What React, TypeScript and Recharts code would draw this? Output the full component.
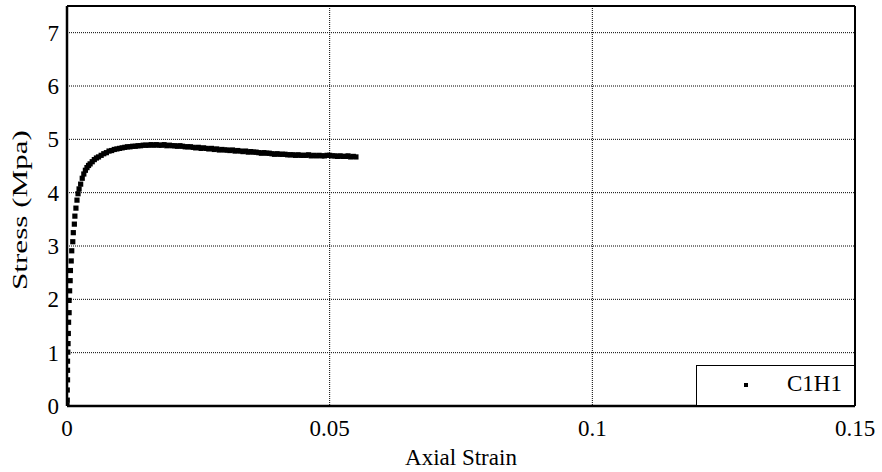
import {
    CartesianGrid,
    Legend,
    ReferenceLine,
    Scatter,
    ScatterChart,
    XAxis,
    YAxis,
} from "recharts";

// initial (sparse) rise of the curve
const riseStrain = [
    0, 0.00005, 0.00005, 0.0001, 0.0001, 0.0001, 0.00015, 0.0002, 0.00025, 0.0003,
    0.0004, 0.0004, 0.0005, 0.0006, 0.00065, 0.0008, 0.0009, 0.0011, 0.0012, 0.0014,
    0.0015, 0.0017, 0.0019, 0.0021,
];
const riseStress = [
    0.02, 0.11, 0.3, 0.49, 0.67, 0.84, 1.01, 1.17, 1.36, 1.57,
    1.75, 1.98, 2.16, 2.35, 2.54, 2.72, 2.91, 3.08, 3.25, 3.41,
    3.56, 3.71, 3.86, 3.98,
];

// dense part: knee, peak and softening branch
const denseStrain = [
    0.0023, 0.0026, 0.0029, 0.0032, 0.0035, 0.0038, 0.0041, 0.0044, 0.0048, 0.0052,
    0.0056, 0.006, 0.0065, 0.007, 0.0075, 0.008, 0.0085, 0.009, 0.0095, 0.01,
    0.0105, 0.011, 0.0115, 0.012, 0.0125, 0.013, 0.0135, 0.014, 0.0145, 0.015,
    0.0155, 0.016, 0.0165, 0.017, 0.0175, 0.018, 0.0185, 0.019, 0.0195, 0.02,
    0.0205, 0.021, 0.0215, 0.022, 0.0225, 0.023, 0.0235, 0.024, 0.0245, 0.025,
    0.0255, 0.026, 0.0265, 0.027, 0.0275, 0.028, 0.0285, 0.029, 0.0295, 0.03,
    0.0305, 0.031, 0.0315, 0.032, 0.0325, 0.033, 0.0335, 0.034, 0.0345, 0.035,
    0.0355, 0.036, 0.0365, 0.037, 0.0375, 0.038, 0.0385, 0.039, 0.0395, 0.04,
    0.0405, 0.041, 0.0415, 0.042, 0.0425, 0.043, 0.0435, 0.044, 0.0445, 0.045,
    0.0455, 0.046, 0.0465, 0.047, 0.0475, 0.048, 0.0485, 0.049, 0.0495, 0.05,
    0.0505, 0.051, 0.0515, 0.052, 0.0525, 0.053, 0.0535, 0.054, 0.0545, 0.055,
];
const denseStress = [
    4.07, 4.16, 4.27, 4.35, 4.42, 4.47, 4.51, 4.54, 4.58, 4.62,
    4.65, 4.67, 4.7, 4.73, 4.75, 4.78, 4.79, 4.81, 4.82, 4.83,
    4.84, 4.85, 4.86, 4.86, 4.87, 4.87, 4.88, 4.88, 4.89, 4.89,
    4.89, 4.9, 4.89, 4.9, 4.89, 4.89, 4.9, 4.88, 4.89, 4.88,
    4.88, 4.87, 4.88, 4.87, 4.86, 4.86, 4.86, 4.85, 4.84, 4.85,
    4.83, 4.84, 4.83, 4.82, 4.83, 4.81, 4.82, 4.8, 4.81, 4.8,
    4.8, 4.79, 4.8, 4.78, 4.79, 4.78, 4.77, 4.78, 4.76, 4.77,
    4.76, 4.76, 4.75, 4.74, 4.75, 4.74, 4.74, 4.73, 4.72, 4.73,
    4.72, 4.72, 4.72, 4.71, 4.71, 4.71, 4.7, 4.71, 4.7, 4.7,
    4.7, 4.71, 4.69, 4.7, 4.69, 4.7, 4.69, 4.69, 4.7, 4.7,
    4.69, 4.69, 4.68, 4.69, 4.68, 4.68, 4.69, 4.67, 4.68, 4.67,
];

const xTicks = [0, 0.05, 0.1, 0.15];
const yTicks = [0, 1, 2, 3, 4, 5, 6, 7];

const FONT = "'Liberation Serif', 'Times New Roman', serif";

const data = [
    ...riseStrain.map((strain, i) => ({ strain, stress: riseStress[i] })),
    ...denseStrain.map((strain, i) => ({ strain, stress: denseStress[i] })),
];

function SquareDot(props: any) {
    const { cx, cy } = props;
    if (cx == null || cy == null) return null;
    return <rect x={cx - 2.6} y={cy - 2.6} width={5.2} height={5.2} fill="#000" />;
}

function XTick(props: any) {
    const { x, y, payload } = props;
    return (
        <text
            x={x}
            y={y + 10}
            dy="0.8em"
            textAnchor="middle"
            fontFamily={FONT}
            fontSize={23}
            fill="#000"
        >
            {String(payload.value)}
        </text>
    );
}

function YTick(props: any) {
    const { x, y, payload } = props;
    return (
        <text
            x={x - 6}
            y={y}
            dy="0.35em"
            textAnchor="end"
            fontFamily={FONT}
            fontSize={23}
            fill="#000"
        >
            {String(payload.value)}
        </text>
    );
}

function LegendBox() {
    return (
        <div
            style={{
                width: 159,
                height: 41,
                boxSizing: "border-box",
                border: "1.5px solid #000",
                background: "#fff",
                position: "relative",
                fontFamily: FONT,
                fontSize: 23,
                color: "#000",
            }}
        >
            <div
                style={{
                    position: "absolute",
                    left: 47,
                    top: 17,
                    width: 4,
                    height: 4,
                    background: "#000",
                }}
            />
            <div style={{ position: "absolute", left: 90, top: 5, lineHeight: "26px" }}>C1H1</div>
        </div>
    );
}

function YLabel() {
    const y = 210;
    const x = 20;
    return (
        <text
            x={x}
            y={y}
            transform={`rotate(-90 ${x} ${y})`}
            textAnchor="middle"
            dominantBaseline="central"
            fontFamily={FONT}
            fontSize={21}
            textLength={160}
            lengthAdjust="spacingAndGlyphs"
            fill="#000"
        >
            Stress (Mpa)
        </text>
    );
}

export default function App() {
    return (
        <div style={{ position: "absolute", left: 0, top: 0, width: 882, height: 472, background: "#fff" }}>
            <ScatterChart
                width={882}
                height={472}
                margin={{ top: 6, right: 27, bottom: 0, left: 0 }}
            >
                <CartesianGrid
                    stroke="#000"
                    strokeDasharray="1 1"
                    strokeWidth={1}
                    horizontalValues={yTicks}
                    verticalValues={xTicks}
                />
                <XAxis
                    type="number"
                    dataKey="strain"
                    domain={[0, 0.15]}
                    ticks={xTicks}
                    allowDataOverflow
                    height={66}
                    tickLine={false}
                    tickSize={0}
                    axisLine={{ stroke: "#000", strokeWidth: 2.5 }}
                    tick={<XTick />}
                    label={{
                        value: "Axial Strain",
                        position: "insideBottom",
                        offset: 7,
                        style: { fontSize: 23, fill: "#000", fontFamily: FONT },
                    }}
                />
                <YAxis
                    type="number"
                    dataKey="stress"
                    domain={[0, 7.5]}
                    ticks={yTicks}
                    allowDataOverflow
                    width={67}
                    tickLine={false}
                    tickSize={0}
                    axisLine={{ stroke: "#000", strokeWidth: 2.5 }}
                    tick={<YTick />}
                    label={<YLabel />}
                />
                <ReferenceLine y={7.5} stroke="#000" strokeWidth={2} />
                <ReferenceLine x={0.15} stroke="#000" strokeWidth={2} />
                <Scatter
                    name="C1H1"
                    data={data}
                    fill="#000"
                    shape={<SquareDot />}
                    isAnimationActive={false}
                />
                <Legend
                    layout="vertical"
                    align="center"
                    verticalAlign="middle"
                    content={<LegendBox />}
                    wrapperStyle={{ position: "absolute", left: 696, top: 365, width: 159, height: 41 }}
                />
            </ScatterChart>
        </div>
    );
}
